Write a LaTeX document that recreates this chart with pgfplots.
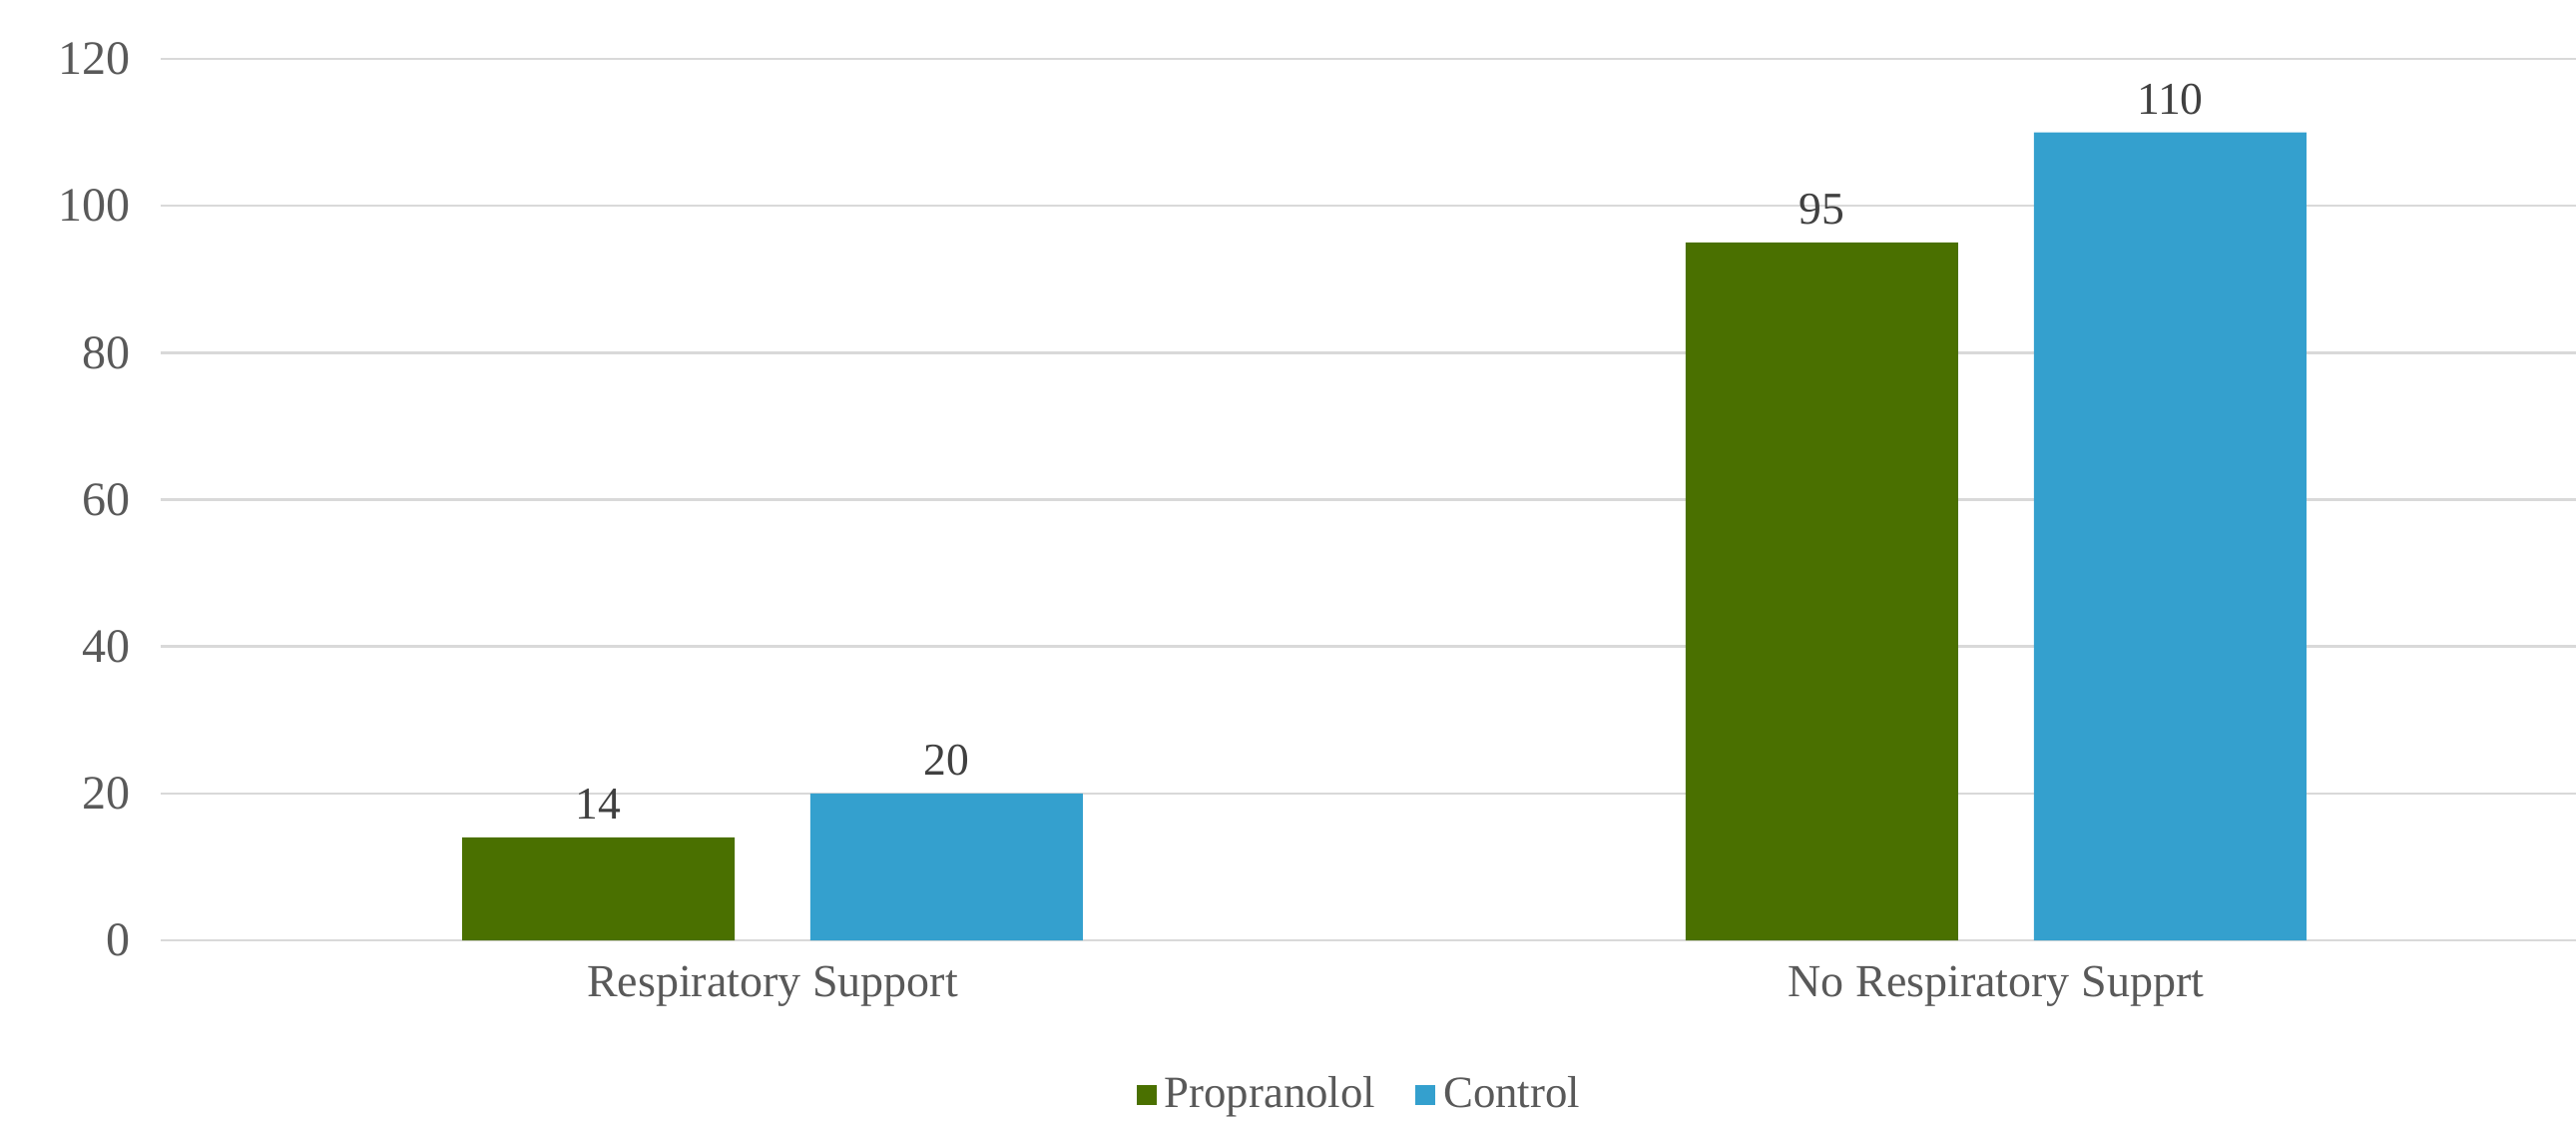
\documentclass[border=0pt]{standalone}
\usepackage{fontspec}
\setmainfont{Liberation Serif}
\usepackage{pgfplots}
\pgfplotsset{compat=1.18}
\definecolor{cgreen}{RGB}{74,112,0}
\definecolor{cblue}{RGB}{52,160,206}
\definecolor{gridc}{RGB}{217,217,217}
\definecolor{ticktext}{RGB}{89,89,89}
\definecolor{datatext}{RGB}{64,64,64}
\begin{document}
\begin{tikzpicture}
\begin{axis}[
  name=ax,
  scale only axis,
  width=605pt, height=220.75pt,
  xmin=-0.5, xmax=1.474,
  ymin=0, ymax=120,
  ytick={0,20,...,120},
  xtick={0,1},
  xticklabels={Respiratory Support, No Respiratory Supprt},
  axis line style={draw=none},
  major tick length=0pt,
  ymajorgrids,
  grid style={gridc, line width=0.65pt},
  /pgf/number format/assume math mode=true,
  yticklabel style={font=\fontsize{12}{14}\selectfont, text=ticktext, xshift=-4pt},
  xticklabel style={font=\fontsize{11.5}{14}\selectfont, text=ticktext, yshift=-3pt},
  ybar,
  bar width=0.2227,
  nodes near coords,
  every node near coord/.append style={font=\fontsize{11.4}{14}\selectfont, text=datatext, yshift=1pt},
  legend style={draw=none, at={(0.4975,-0.1755)}, anchor=center, legend columns=2,
    font=\fontsize{11.2}{13}\selectfont, text=ticktext,
    /tikz/every even column/.append style={column sep=8pt}},
  legend image code/.code={\fill[#1] (0pt,-2.5pt) rectangle (5pt,2.5pt);},
]
\addplot[fill=cgreen, draw=none, bar shift=-0.1423] coordinates {(0,14) (1,95)};
\addplot[fill=cblue, draw=none, bar shift=0.1423] coordinates {(0,20) (1,110)};
\legend{Propranolol, Control}
\end{axis}
\pgfresetboundingbox
\path[use as bounding box] ([shift={(-40.25pt,-45.5pt)}]ax.south west) rectangle ([shift={(0pt,14.75pt)}]ax.north east);
\end{tikzpicture}
\end{document}
